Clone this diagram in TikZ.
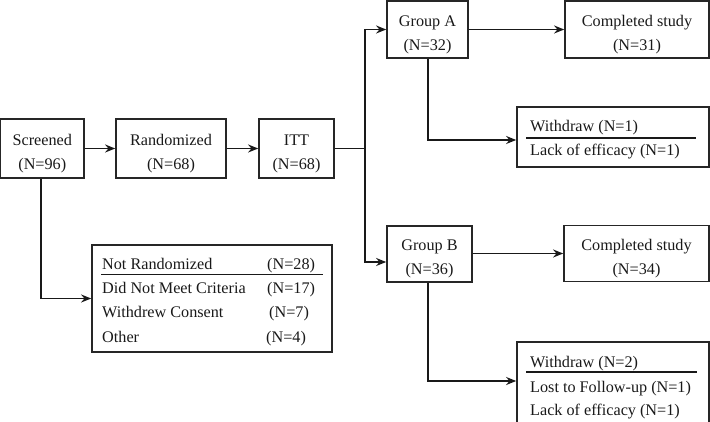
\documentclass[tikz,border=0pt]{standalone}
\usepackage{fontspec}
\setmainfont{Liberation Serif}
\usetikzlibrary{arrows.meta,positioning,calc}
\newcommand{\twoln}[2]{\raisebox{-4pt}[\height][\depth]{\begin{tabular}{@{}c@{}}#1\\#2\end{tabular}}}
\begin{document}
\begin{tikzpicture}[x=1pt,y=-1pt,
  box/.style={draw=black!85, line width=1.7pt, inner sep=0pt, align=center,
    font=\fontsize{16.2}{24}\selectfont, text=black!90},
  txt/.style={inner sep=0pt, anchor=base west, font=\fontsize{16.2}{19}\selectfont, text=black!90},
  arr/.style={draw=black!90, line width=1.8pt, -{Stealth[length=10pt,width=8pt]}},
  rule/.style={draw=black!90, line width=1.8pt}]
\useasboundingbox (0,0) rectangle (710,422);
% main boxes
\node[box, minimum width=83.5pt, minimum height=59pt] (scr) at (42.3,148.5) {\twoln{Screened}{(N=96)}};
\node[box, minimum width=110pt, minimum height=59pt] (rand) at (171,148.5) {\twoln{Randomized}{(N=68)}};
\node[box, minimum width=75pt, minimum height=59pt] (itt) at (296.5,148.5) {\twoln{ITT}{(N=68)}};
\node[box, minimum width=81pt, minimum height=57pt] (grpA) at (427.5,29.5) {\twoln{Group A}{(N=32)}};
\node[box, minimum width=144pt, minimum height=57pt] (compA) at (637,29.5) {\twoln{Completed study}{(N=31)}};
\node[box, minimum width=85pt, minimum height=56pt] (grpB) at (429.5,254) {\twoln{Group B}{(N=36)}};
\node[box, minimum width=145pt, minimum height=56pt] (compB) at (636.5,253.5) {\twoln{Completed study}{(N=34)}};
% list boxes
\node[box, minimum width=240pt, minimum height=107pt] (notR) at (212,298.5) {};
\node[box, minimum width=192pt, minimum height=60pt] (wdA) at (613,137) {};
\node[box, minimum width=192pt, minimum height=90pt] (wdB) at (613,387) {};
% list texts
\node[txt] (n1) at (102,270) {Not Randomized};
\node[txt] (n1r) at (267,270) {(N=28)};
\node[txt] (n2) at (102,294) {Did Not Meet Criteria};
\node[txt] (n2r) at (267,294) {(N=17)};
\node[txt] (n3) at (102,318) {Withdrew Consent};
\node[txt] (n3r) at (269,318) {(N=7)};
\node[txt] (n4) at (102,342) {Other};
\node[txt] (n4r) at (266,342) {(N=4)};
\draw[rule] (101,274.5) -- (323,274.5);
\node[txt] (a1) at (530,132) {Withdraw (N=1)};
\node[txt] (a2) at (530,156) {Lack of efficacy (N=1)};
\draw[rule] (526,138) -- (696,138);
\node[txt] (b1) at (530,367) {Withdraw (N=2)};
\node[txt] (b2) at (530,392) {Lost to Follow-up (N=1)};
\node[txt] (b3) at (530,415) {Lack of efficacy (N=1)};
\draw[rule] (526,372) -- (697,372);
% connectors
\draw[arr] (scr.east) -- (rand.west);
\draw[arr] (rand.east) -- (itt.west);
\coordinate (split) at (365,148.5);
\draw[arr] (itt.east) -- (split) |- (grpA.west);
\draw[arr] (split) |- ([yshift=-8pt]grpB.west);
\draw[arr] (grpA.east) -- (compA.west);
\draw[arr] (grpB.east |- compB.west) -- (compB.west);
\draw[arr] ([xshift=0.5pt]grpA.south) |- ([yshift=-3pt]wdA.west);
\draw[arr] ([xshift=-1.5pt]grpB.south) |- (wdB.west |- 0,381);
\draw[arr] ([xshift=-1pt]scr.south) |- (notR.west);
\end{tikzpicture}
\end{document}
